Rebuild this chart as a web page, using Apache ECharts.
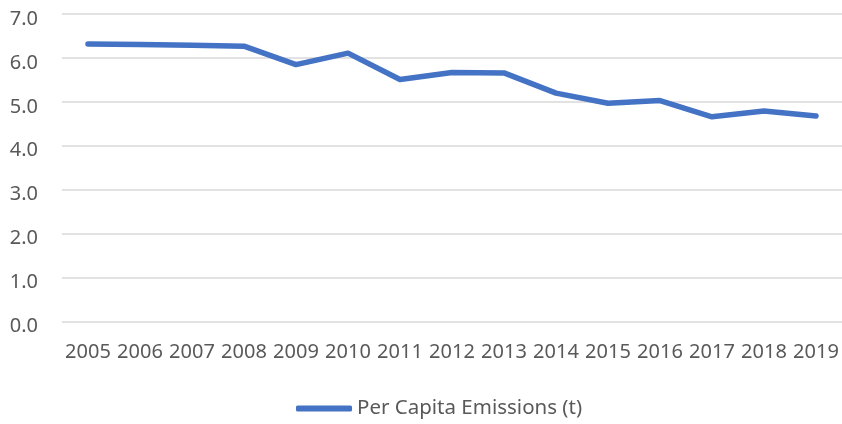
<!DOCTYPE html>
<html>
<head>
<meta charset="utf-8">
<script src="https://cdn.jsdelivr.net/npm/echarts@6/dist/echarts.min.js"></script>
<style>html,body{margin:0;padding:0;background:#fff;}#c{width:842px;height:424px;}</style>
</head>
<body>
<div id="c"></div>
<script>
const years = ['2005','2006','2007','2008','2009','2010','2011','2012','2013','2014','2015','2016','2017','2018','2019'];
const perCapita = [6.32, 6.31, 6.29, 6.27, 5.85, 6.11, 5.51, 5.67, 5.66, 5.20, 4.97, 5.03, 4.66, 4.79, 4.68];
const seriesName = 'Per Capita Emissions (t)';

const chart = echarts.init(document.getElementById('c'), null, {renderer: 'canvas'});
const font = 'Noto Sans';
chart.setOption({
  animation: false,
  backgroundColor: '#ffffff',
  grid: {left: 62, right: 0, top: 14.1, bottom: 102.7, containLabel: false},
  legend: {
    data: [seriesName],
    bottom: 0,
    left: 291,
    icon: 'roundRect',
    itemWidth: 56,
    itemHeight: 6,
    textStyle: {fontFamily: font, fontSize: 20.5, color: '#595959'}
  },
  xAxis: {
    type: 'category',
    data: years,
    boundaryGap: true,
    axisLine: {show: false},
    axisTick: {show: false},
    axisLabel: {fontFamily: font, fontSize: 20, color: '#595959', margin: 21, interval: 0}
  },
  yAxis: {
    type: 'value',
    min: 0,
    max: 7,
    interval: 1,
    axisLine: {show: false},
    axisTick: {show: false},
    axisLabel: {fontFamily: font, fontSize: 20, color: '#595959', margin: 24, verticalAlign: 'top', lineHeight: 10, formatter: v => v.toFixed(1)},
    splitLine: {lineStyle: {color: '#d9d9d9', width: 1.5}}
  },
  series: [{
    name: seriesName,
    type: 'line',
    data: perCapita,
    symbol: 'none',
    lineStyle: {color: '#4472C4', width: 5.5, cap: 'round', join: 'round'},
    itemStyle: {color: '#4472C4'}
  }]
});
</script>
</body>
</html>
